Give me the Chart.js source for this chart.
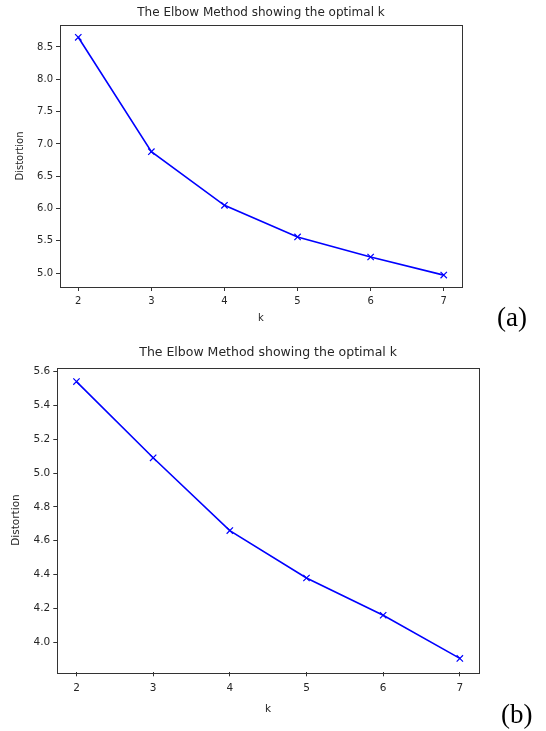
<!DOCTYPE html>
<html>
<head>
<meta charset="utf-8">
<title>Elbow method</title>
<script src="https://cdn.jsdelivr.net/npm/chart.js@4"></script>
<style>
  html, body { margin: 0; padding: 0; background: #fff; }
  body { width: 546px; height: 731px; position: relative; overflow: hidden; }
  .panel { position: absolute; left: 0; width: 546px; }
  .tag { position: absolute; font-family: "Liberation Serif", "DejaVu Serif", serif; font-size: 27px; line-height: 1; color: #000; }
</style>
</head>
<body>
<div class="panel" style="top:0;height:330px"><canvas id="chartA"></canvas></div>
<div class="panel" style="top:330px;height:401px"><canvas id="chartB"></canvas></div>
<span class="tag" style="left:497px;top:304px">(a)</span>
<span class="tag" style="left:501px;top:701px">(b)</span>
<script>
// values
const kValues = [2, 3, 4, 5, 6, 7];
const distortionA = [8.65, 6.88, 6.05, 5.56, 5.25, 4.97];
const distortionB = [5.54, 5.09, 4.66, 4.38, 4.16, 3.905];

const yTicksA = [5.0, 5.5, 6.0, 6.5, 7.0, 7.5, 8.0, 8.5];
const yTicksB = [4.0, 4.2, 4.4, 4.6, 4.8, 5.0, 5.2, 5.4, 5.6];
const xLimits = [1.75, 7.25];
const yLimitsA = [4.786, 8.84];
const yLimitsB = [3.823, 5.622];

const titleText = 'The Elbow Method showing the optimal k';
const textColor = '#262626';
const axisColor = '#333';

// full box round the plot area, like matplotlib spines
const frame = {
    id: 'frame',
    afterDraw(chart) {
        const a = chart.chartArea;
        const ctx = chart.ctx;
        ctx.save();
        ctx.strokeStyle = axisColor;
        ctx.lineWidth = 1;
        ctx.strokeRect(Math.round(a.left) + 0.5, Math.round(a.top) + 0.5,
            Math.round(a.right - a.left), Math.round(a.bottom - a.top));
        ctx.restore();
    }
};

function makeElbow(canvasId, values, yTicks, yLimits, g) {
    const ctx = document.getElementById(canvasId).getContext('2d');
    return new Chart(ctx, {
        type: 'line',
        data: {
            datasets: [{
                data: kValues.map(function(k, i) { return { x: k, y: values[i] }; }),
                borderColor: '#0000ff',
                borderWidth: 1.6,
                tension: 0,
                fill: false,
                pointStyle: 'crossRot',
                pointRadius: 4.5,
                pointBorderColor: '#0000ff',
                pointBorderWidth: 1.2,
                pointBackgroundColor: '#0000ff'
            }]
        },
        options: {
            responsive: true,
            maintainAspectRatio: false,
            animation: false,
            layout: { padding: { left: 0, right: g.right, top: 0, bottom: 0 } },
            plugins: {
                legend: { display: false },
                tooltip: { enabled: false },
                title: {
                    display: true,
                    fullSize: false,
                    text: titleText,
                    color: textColor,
                    font: { family: 'DejaVu Sans', size: g.titleSize, weight: 'normal', lineHeight: 1.2 },
                    padding: { top: g.titleTop, bottom: g.titleBottom }
                }
            },
            scales: {
                x: {
                    type: 'linear',
                    min: xLimits[0],
                    max: xLimits[1],
                    afterBuildTicks: function(scale) {
                        scale.ticks = kValues.map(function(v) { return { value: v }; });
                    },
                    afterFit: function(scale) { scale.height = g.xHeight; },
                    grid: { drawOnChartArea: false, drawTicks: true, tickLength: 4, tickColor: axisColor },
                    border: { display: false },
                    ticks: {
                        color: textColor,
                        padding: g.xTickPad,
                        maxRotation: 0,
                        font: { family: 'DejaVu Sans', size: g.tickSize },
                        callback: function(v) { return String(v); }
                    },
                    title: {
                        display: true,
                        text: 'k',
                        color: textColor,
                        font: { family: 'DejaVu Sans', size: g.tickSize },
                        padding: { top: 0, bottom: g.kPad }
                    }
                },
                y: {
                    min: yLimits[0],
                    max: yLimits[1],
                    afterBuildTicks: function(scale) {
                        scale.ticks = yTicks.map(function(v) { return { value: v }; });
                    },
                    afterFit: function(scale) { scale.width = g.yWidth; },
                    grid: { drawOnChartArea: false, drawTicks: true, tickLength: 4, tickColor: axisColor },
                    border: { display: false },
                    ticks: {
                        color: textColor,
                        padding: 3,
                        font: { family: 'DejaVu Sans', size: g.tickSize },
                        callback: function(v) { return Number(v).toFixed(1); }
                    },
                    title: {
                        display: true,
                        text: 'Distortion',
                        color: textColor,
                        font: { family: 'DejaVu Sans', size: g.tickSize },
                        padding: { top: g.distPad, bottom: 0 }
                    }
                }
            }
        },
        plugins: [frame]
    });
}

makeElbow('chartA', distortionA, yTicksA, yLimitsA, {
    right: 84, titleSize: 12, titleTop: 5.5, titleBottom: 5.1,
    tickSize: 10, xHeight: 43, xTickPad: 4, kPad: 6, yWidth: 60, distPad: 14
});
makeElbow('chartB', distortionB, yTicksB, yLimitsB, {
    right: 67, titleSize: 12.5, titleTop: 15.5, titleBottom: 7.2,
    tickSize: 10.5, xHeight: 58.7, xTickPad: 6, kPad: 15, yWidth: 57.3, distPad: 10
});
</script>
</body>
</html>
